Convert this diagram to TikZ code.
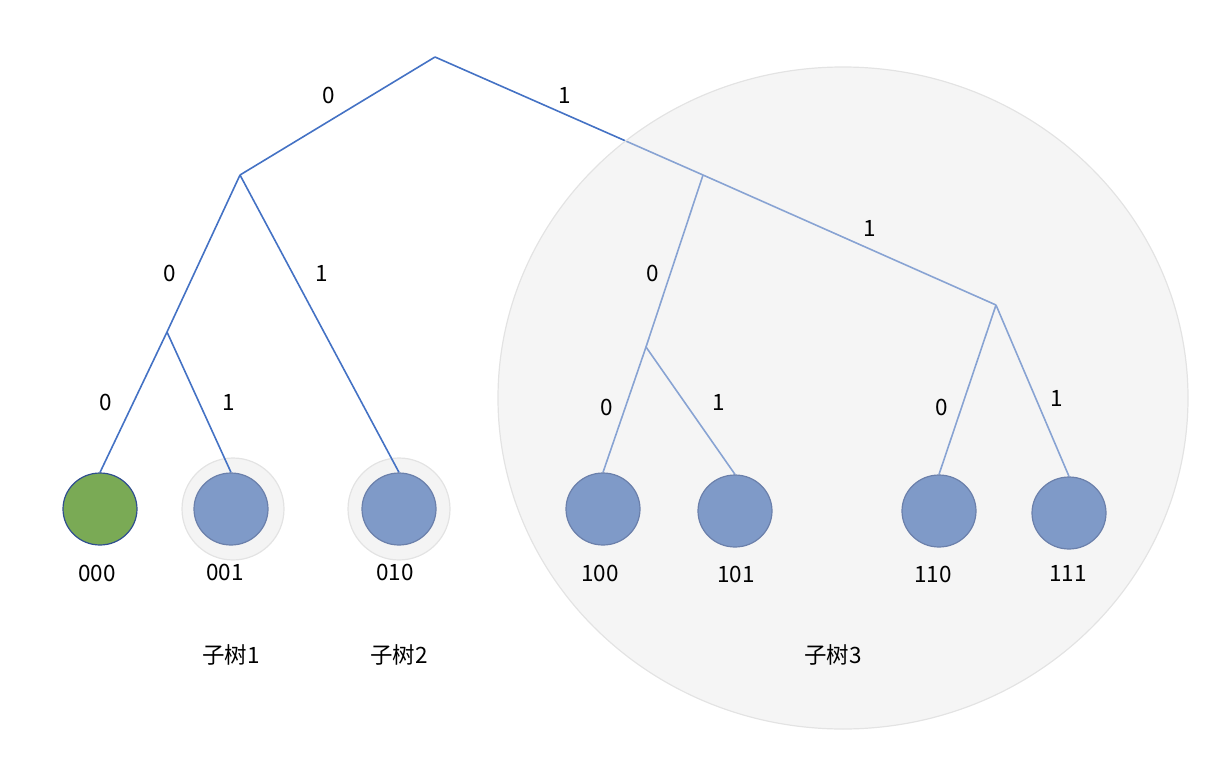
\documentclass[tikz,border=0pt]{standalone}
\usepackage{fontspec}
\setmainfont{Noto Sans CJK SC}
\usetikzlibrary{shapes.geometric,backgrounds}
\definecolor{branchblue}{HTML}{4472C4}
\definecolor{leafblue}{HTML}{7F9AC8}
\definecolor{leafline}{HTML}{6B80AB}
\definecolor{leafgreen}{HTML}{7AAA55}
\definecolor{greenline}{HTML}{2F4E8F}
\definecolor{halofill}{HTML}{F4F4F4}
\definecolor{haloline}{HTML}{E3E3E3}
\begin{document}
\begin{tikzpicture}[x=1pt,y=-1pt,
    leaf/.style={ellipse,draw=leafline,fill=leafblue,line width=1.2pt,
      minimum width=74pt,minimum height=72pt,inner sep=0pt},
    halo/.style={circle,draw=haloline,fill=halofill,line width=1.2pt,
      minimum size=102pt,inner sep=0pt},
    branch/.style={draw=branchblue,line width=1.6pt},
    bit/.style={font=\fontsize{22.5}{26}\selectfont,inner sep=1pt}]
    \useasboundingbox (0,0) rectangle (1232,776);

    % inner points of the tree
    \coordinate (root) at (435,57);
    \coordinate (n0) at (240,175);
    \coordinate (n00) at (167,332);
    \coordinate (n1) at (703,175);
    \coordinate (n10) at (646,347);
    \coordinate (n11) at (996,305);

    % leaves
    \node[leaf,draw=greenline,fill=leafgreen] (l000) at (100,509) {};
    \node[bit] (t000) at (97,573) {000};
    \foreach \name/\x/\y/\lx/\ly in {
        001/231/509/225/572,
        010/399/509/395/572,
        100/603/509/600/573,
        101/735/511/736/574,
        110/939/511/933/574,
        111/1069/513/1068/573} {
        \node[leaf] (l\name) at (\x,\y) {};
        \node[bit] (t\name) at (\lx,\ly) {\name};
    }

    \begin{pgfonlayer}{background}
        \node[halo] (h001) at (233,509) {};
        \node[halo] (h010) at (399,509) {};
        \draw[branch] (root) -- (n0);
        \draw[branch] (root) -- (n1);
        \draw[branch] (n1) -- (n11);
        \draw[branch] (n0) -- (n00);
        \draw[branch] (n00) -- (l000.north);
        \draw[branch] (n00) -- (l001.north);
        \draw[branch] (n0) -- (l010.north);
        \draw[branch] (n1) -- (n10);
        \draw[branch] (n10) -- (l100.north);
        \draw[branch] (n10) -- (l101.north);
        \draw[branch] (n11) -- (l110.north);
        \draw[branch] (n11) -- (l111.north);
        % subtree 3
        \node[ellipse,minimum width=690pt,minimum height=662pt,inner sep=0pt,
          fill=black!9,fill opacity=0.42,draw=haloline,line width=1.2pt]
          (sub3) at (843,398) {};
    \end{pgfonlayer}

    % bits on the branches
    \foreach \x/\y/\b [count=\i] in {
        329/95/0, 565/95/1, 170/273/0, 322/273/1, 106/402/0, 229/402/1,
        653/273/0, 870/228/1, 607/407/0, 719/402/1, 942/407/0, 1057/398/1} {
        \node[bit] (b\i) at (\x,\y) {\b};
    }

    % subtree names
    \node[bit] (s1) at (231,655) {子树1};
    \node[bit] (s2) at (399,655) {子树2};
    \node[bit] (s3) at (833,655) {子树3};
\end{tikzpicture}
\end{document}
